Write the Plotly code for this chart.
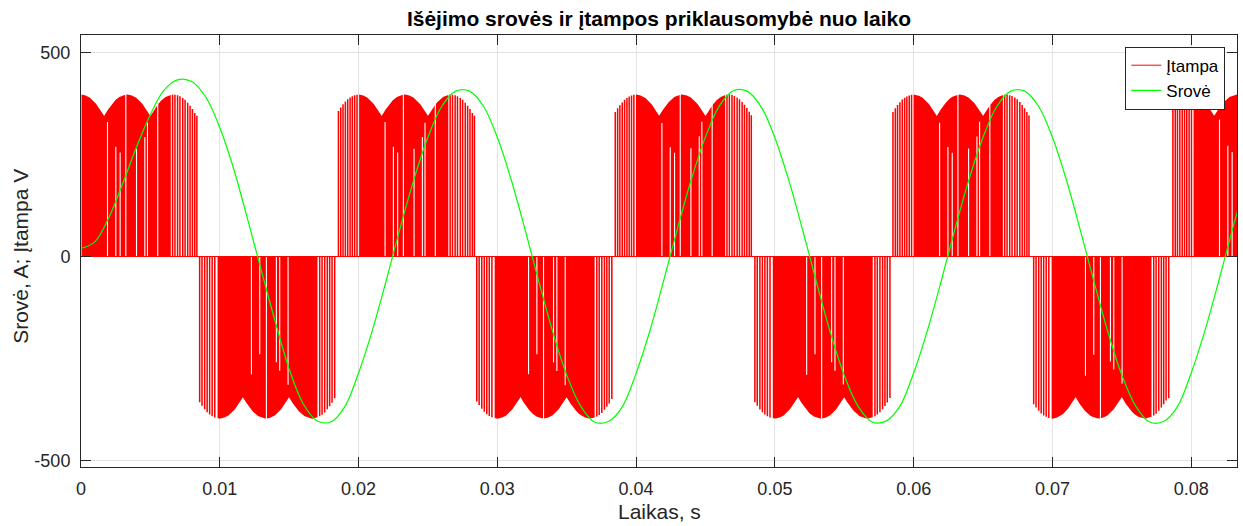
import numpy as np
import plotly.graph_objects as go

# ---------------- data ----------------
T_MAX = 0.0833  # end of recorded time, s

# Output current (A), read every 1 ms from t = 0
cur_i = [
    20, 36, 95, 178, 268, 348, 408, 433, 428, 390,
    316, 215, 92, -35, -160, -275, -360, -402, -405, -368,
    -285, -180, -58, 70, 190, 292, 368, 405, 405, 368,
    292, 188, 66, -62, -185, -290, -366, -405, -404, -368,
    -286, -181, -57, 71, 191, 293, 369, 406, 405, 367,
    291, 187, 65, -63, -186, -291, -367, -405, -403, -367,
    -285, -180, -58, 70, 190, 292, 368, 405, 405, 368,
    292, 188, 66, -62, -185, -290, -366, -405, -404, -368,
    -285, -180, -58, 70, 190,
]
cur_t = [round(0.001 * k, 3) for k in range(len(cur_i))]

# DC-link envelope of the output voltage (V) over one ripple period (peak centred)
env_profile = [344, 360, 373, 384, 391, 395, 397, 395, 391, 384, 373, 360, 344]
RIPPLE_T = 1.0 / 300.0

# voltage half-cycle blocks (start time, polarity)
blk_start = [-0.00147, 0.00849, 0.01853, 0.02846, 0.03848, 0.04850, 0.05849, 0.06859, 0.07866]
blk_sign = [1, -1, 1, -1, 1, -1, 1, -1, 1]

# pulse pattern inside a positive block (times relative to block start, s)
pos_lead = [0.00002, 0.00019, 0.00035, 0.00052, 0.00069, 0.00086, 0.00102, 0.00119, 0.00136]
pos_core = [0.00151, 0.00794]
pos_gap_t = [0.00338, 0.00398, 0.00429, 0.00470, 0.00547, 0.00607, 0.00626, 0.00700]
pos_gap_f = [0.92, 0.70, 0.65, 1.0, 0.68, 0.80, 0.92, 1.0]
pos_trail = [0.00807, 0.00824, 0.00843, 0.00860, 0.00880, 0.00897, 0.00916, 0.00933, 0.00950, 0.00967, 0.00982]

# pulse pattern inside a negative block
neg_lead = [0.00006, 0.00023, 0.00042, 0.00060, 0.00078, 0.00096, 0.00115]
neg_core = [0.00135, 0.00855]
neg_gap_t = [0.00379, 0.00439, 0.00487, 0.00559, 0.00583, 0.00643]
neg_gap_f = [0.77, 0.61, 1.0, 0.67, 0.74, 0.90]
neg_trail = [0.00871, 0.00888, 0.00907, 0.00926, 0.00943, 0.00960, 0.00979]

GAP_W = 0.00008
PULSE_W = 0.00011

# ---------------- build voltage shapes ----------------
prof = np.array(env_profile, float)
prof_idx = np.arange(len(prof))


def env(t):
    ph = ((np.asarray(t, float) + RIPPLE_T / 2) % RIPPLE_T) / RIPPLE_T * (len(prof) - 1)
    return np.interp(ph, prof_idx, prof)


vx, vy = [], []


def add_poly(xs, ys):
    vx.extend(list(xs) + [None])
    vy.extend(list(ys) + [None])


def add_block(t0, sign, lead, core, gap_t, gap_f, trail):
    for c in lead + trail:
        c = t0 + c
        if c > T_MAX or c < 0:
            continue
        l, r = c - PULSE_W / 2, c + PULSE_W / 2
        e = float(env(c)) * sign
        add_poly([l, l, r, r], [0, e, e, 0])
    a = max(t0 + core[0], 0.0)
    b = min(t0 + core[1], T_MAX)
    full = sorted(t0 + g for g, f in zip(gap_t, gap_f) if f >= 0.99 and a < t0 + g < b)
    part = [(t0 + g, f) for g, f in zip(gap_t, gap_f) if f < 0.99]
    edges = [a]
    for g in full:
        edges += [g - GAP_W / 2, g + GAP_W / 2]
    edges.append(b)
    for k in range(0, len(edges), 2):
        s, e_ = edges[k], edges[k + 1]
        if s >= e_:
            continue
        xs, ys = [s], [0.0]
        for g, f in part:
            if s < g - GAP_W / 2 and g + GAP_W / 2 < e_:
                h = f * float(env(g)) * sign
                xs += [g - GAP_W / 2, g - GAP_W / 2, g + GAP_W / 2, g + GAP_W / 2]
                ys += [0.0, h, h, 0.0]
        xs.append(e_)
        ys.append(0.0)
        n = max(2, int((e_ - s) / 0.00002) + 1)
        tt = np.linspace(e_, s, n)
        xs += tt.tolist()
        ys += (sign * env(tt)).tolist()
        add_poly(xs, ys)


for t0, sg in zip(blk_start, blk_sign):
    if sg > 0:
        add_block(t0, sg, pos_lead, pos_core, pos_gap_t, pos_gap_f, pos_trail)
    else:
        add_block(t0, sg, neg_lead, neg_core, neg_gap_t, neg_gap_f, neg_trail)

RED = "#ff0000"
GREEN = "#00ff00"
AX = "#262626"
FONT = "Liberation Sans, Arial, Helvetica, sans-serif"

fig = go.Figure()
fig.add_trace(go.Scatter(x=vx, y=vy, mode="lines", fill="toself", fillcolor=RED,
                         line=dict(width=0, color=RED), showlegend=False, hoverinfo="skip"))
fig.add_trace(go.Scatter(x=[cur_t[0], T_MAX], y=[0, 0], mode="lines", name="Įtampa",
                         line=dict(color=RED, width=1)))
fig.add_trace(go.Scatter(x=cur_t, y=cur_i, mode="lines", name="Srovė",
                         line=dict(color=GREEN, width=1.2, shape="spline")))

xt = [0, 0.01, 0.02, 0.03, 0.04, 0.05, 0.06, 0.07, 0.08]
yt = [-500, 0, 500]

fig.update_layout(
    width=1243, height=526,
    margin=dict(l=81, r=6, t=35, b=59),
    plot_bgcolor="white", paper_bgcolor="white",
    font=dict(family=FONT, color=AX, size=18),
    title=dict(text="<b>Išėjimo srovės ir įtampos priklausomybė nuo laiko</b>",
               x=0.5, xref="paper", xanchor="center",
               y=1 - 19 / 526, yref="container", yanchor="middle",
               font=dict(size=21, color="black", family=FONT)),
    legend=dict(x=0.9899, xanchor="right", y=0.973, yanchor="top",
                bgcolor="white", bordercolor=AX, borderwidth=1,
                font=dict(size=17, color="black", family=FONT)),
    xaxis=dict(range=[0, T_MAX], tickvals=xt, ticktext=["0"] + [f"{v:g}" for v in xt[1:]],
               showgrid=True, gridcolor="#e3e3e3", gridwidth=1, zeroline=False,
               showline=True, linecolor=AX, linewidth=1, mirror="ticks",
               ticks="inside", ticklen=10, tickcolor=AX, ticklabelstandoff=5),
    yaxis=dict(range=[-515.3, 542.4], tickvals=yt, ticktext=["-500", "0", "500"],
               showgrid=True, gridcolor="#e3e3e3", gridwidth=1, zeroline=False,
               showline=True, linecolor=AX, linewidth=1, mirror="ticks",
               ticks="inside", ticklen=10, tickcolor=AX, ticklabelstandoff=6),
    annotations=[
        dict(text="Laikas, s", xref="paper", yref="paper", x=0.5, y=-(512 - 467.3) / 432.3,
             xanchor="center", yanchor="middle", showarrow=False,
             font=dict(size=21, color=AX, family=FONT)),
        dict(text="Srovė, A; Įtampa V", xref="paper", yref="paper", x=(21 - 81) / 1155.7,
             y=1 - (256 - 35) / 432.3, xanchor="center", yanchor="middle", textangle=-90,
             showarrow=False, font=dict(size=21, color=AX, family=FONT)),
    ],
)

fig.write_html("out.html")
